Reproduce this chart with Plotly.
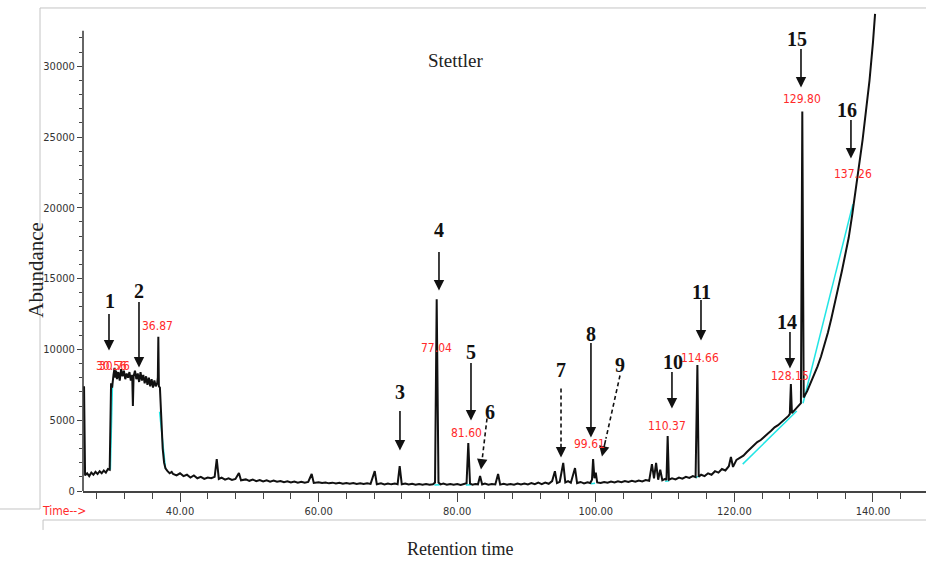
import plotly.graph_objects as go

# Total ion chromatogram, sample "Stettler" (retention time in minutes, abundance in counts)
rt = [26.15, 26.3, 26.6, 26.9, 27.2, 27.5, 27.8, 28.1, 28.4, 28.7, 29.0, 29.3, 29.6, 29.85,
      30.05, 30.2, 30.4, 30.56, 30.66, 30.76, 30.9, 31.1, 31.3, 31.5, 31.7, 31.9, 32.1, 32.3,
      32.5, 32.7, 32.9, 33.1, 33.2, 33.3, 33.5, 33.7, 33.9, 34.1, 34.3, 34.5, 34.7, 34.9,
      35.1, 35.3, 35.5, 35.7, 35.9, 36.1, 36.3, 36.5, 36.7, 36.8, 36.87, 36.95, 37.1, 37.3,
      37.5, 37.7, 37.9, 38.2, 38.5, 38.8, 39.0, 39.5, 40.0, 40.5, 41.0, 41.5, 42.0, 42.5,
      43.0, 43.5, 44.0, 44.5, 45.0, 45.3, 45.6, 46.0, 46.5, 47.0, 47.5, 48.0, 48.5, 48.8,
      49.5, 50.0, 50.5, 51.0, 51.5, 52.0, 52.5, 53.0, 53.5, 54.0, 54.5, 55.0, 55.5, 56.0,
      56.5, 57.0, 57.5, 58.0, 58.5, 59.0, 59.3, 60.0, 60.5, 61.0, 61.5, 62.0, 62.5, 63.0,
      63.5, 64.0, 64.5, 65.0, 65.5, 66.0, 66.5, 67.0, 67.5, 68.1, 68.4, 69.0, 69.5, 70.0,
      70.5, 71.0, 71.4, 71.7, 72.0, 72.5, 73.0, 73.5, 74.0, 74.5, 75.0, 75.5, 76.0, 76.5,
      76.8, 77.04, 77.3, 77.6, 78.0, 78.5, 79.0, 79.5, 80.0, 80.5, 81.0, 81.35, 81.6, 81.85,
      82.2, 82.6, 83.0, 83.3, 83.6, 84.0, 84.5, 85.0, 85.5, 85.9, 86.2, 86.7, 87.2, 87.7,
      88.2, 88.7, 89.2, 89.7, 90.2, 90.7, 91.2, 91.7, 92.2, 92.7, 93.2, 93.7, 94.1, 94.4,
      94.8, 95.3, 95.6, 96.0, 96.4, 97.0, 97.3, 97.8, 98.3, 98.8, 99.2, 99.45, 99.61, 99.8,
      100.0, 100.2, 100.7, 101.2, 101.7, 102.2, 102.7, 103.2, 103.7, 104.2, 104.7, 105.2,
      105.7, 106.2, 106.7, 107.2, 107.7, 108.1, 108.4, 108.7, 109.0, 109.3, 109.6, 110.0,
      110.2, 110.37, 110.55, 111.0, 111.5, 112.0, 112.5, 113.0, 113.5, 114.0, 114.4, 114.66,
      114.85, 115.2, 115.7, 116.2, 116.7, 117.2, 117.7, 118.2, 118.7, 119.2, 119.5, 119.8,
      120.3, 120.8, 121.3, 121.8, 122.3, 122.8, 123.3, 123.8, 124.3, 124.8, 125.3, 125.8,
      126.3, 126.8, 127.3, 127.8, 128.0, 128.15, 128.3, 128.7, 129.2, 129.6, 129.8, 130.0,
      130.5, 131.0, 131.5, 132.0, 132.5, 133.0, 133.5, 134.0, 134.5, 135.0, 135.5, 136.0,
      136.5, 137.0, 137.26, 137.5, 138.0, 138.5, 139.0, 139.5, 140.0, 140.3]
abundance = [7400, 1100, 1250, 1050, 1300, 1150, 1350, 1200, 1400, 1250, 1450, 1300, 1550, 1500,
             7600, 7300, 8200, 8700, 8000, 8500, 7900, 8400, 7800, 8600, 8100, 8500, 7900, 8300,
             8000, 8400, 7800, 8200, 6000, 8100, 8500, 7900, 8300, 7700, 8400, 7800, 8200, 7600,
             8100, 7500, 8000, 7400, 7900, 7300, 7800, 7400, 7600, 8000, 10900, 7400, 7300, 5000,
             3000, 2000, 1600, 1400, 1250, 1350, 1200, 1100, 1250, 1050, 1150, 950, 1100, 900,
             1000, 850, 950, 900, 1000, 2260, 850, 950, 800, 900, 780, 850, 1270, 760,
             820, 720, 800, 700, 780, 680, 750, 660, 730, 650, 700, 620, 690, 600,
             670, 590, 650, 580, 640, 1200, 570, 620, 560, 600, 540, 590, 530, 580,
             520, 570, 510, 560, 500, 550, 490, 540, 500, 1400, 480, 540, 470, 530,
             470, 520, 480, 1760, 470, 520, 460, 510, 450, 500, 450, 490, 440, 480,
             600, 13550, 600, 470, 520, 440, 500, 450, 490, 430, 480, 550, 3390, 520,
             450, 500, 470, 1060, 460, 520, 440, 500, 460, 1200, 450, 510, 440, 500,
             450, 520, 460, 530, 470, 560, 480, 590, 490, 600, 510, 700, 1400, 560,
             650, 1980, 600, 700, 580, 1620, 560, 640, 540, 620, 560, 800, 2260, 900,
             1300, 600, 560, 640, 580, 660, 600, 680, 620, 700, 640, 720,
             660, 740, 680, 780, 720, 1900, 900, 1980, 800, 1500, 760, 850,
             780, 3880, 800, 900, 820, 950, 870, 1000, 920, 1050, 980, 8900,
             1000, 1150, 1050, 1250, 1150, 1400, 1300, 1550, 1450, 1750, 2400, 1700,
             2200, 2350, 2500, 2750, 3000, 3200, 3450, 3600, 3850, 4050, 4250, 4500,
             4650, 4850, 5100, 5300, 5450, 7550, 5500, 5700, 5950, 6200, 26800, 6600,
             7050, 7600, 8150, 8800, 9500, 10300, 11200, 12200, 13200, 14400, 15500, 16600,
             17900, 19500, 20400, 21200, 23100, 24800, 26900, 29000, 31700, 33700]

# Integration baselines (None separates the segments)
base_rt = [29.95, 30.25, None, 37.05, 37.9, None, 76.7, 77.5, None, 81.25, 82.0, None,
           99.3, 99.9, None, 110.0, 110.6, None, 114.3, 115.0, None,
           121.2, 129.0, None, 129.9, 137.1]
base_ab = [1500, 7500, None, 5600, 1600, None, 420, 440, None, 430, 440, None,
           520, 540, None, 680, 720, None, 950, 1050, None,
           1900, 5650, None, 6200, 20260]

# Peak numbering: (label, arrow tail rt, arrow tail abundance, head rt, head abundance, dashed)
peak_ids = ["1", "2", "3", "4", "5", "6", "7", "8", "9", "10", "11", "14", "15", "16"]
arrow_tail_rt = [29.75, 34.08, 71.74, 77.37, 81.99, 84.30, 94.98, 99.30, 103.49, 110.99, 115.18, 128.02, 129.61, 136.82]
arrow_tail_ab = [12606, 13453, 5755, 16984, 9145, 5120, 7239, 10558, 8157, 8510, 13594, 11335, 31320, 26307]
arrow_head_rt = [29.75, 34.08, 71.74, 77.37, 81.99, 83.43, 94.98, 99.30, 100.89, 110.99, 115.18, 128.02, 129.61, 136.82]
arrow_head_ab = [9922, 8722, 2860, 14160, 4979, 1518, 2366, 3778, 2436, 5826, 10628, 8651, 28496, 23482]
arrow_dashed = [False, False, False, False, False, True, True, False, True, False, False, False, False, False]
id_rt = [29.9, 34.08, 71.74, 77.37, 81.99, 84.73, 94.98, 99.30, 103.49, 111.14, 115.32, 127.59, 129.03, 136.25]
id_ab = [13453, 14160, 7027, 18468, 9852, 5614, 8580, 11123, 8933, 9145, 14089, 11970, 31956, 26943]

# Retention-time tags printed by the integrator
tag_text = ["30.56", "30.76", "36.87", "77.04", "81.60", "99.61", "110.37", "114.66", "128.15", "129.80", "137.26"]
tag_rt = [30.05, 30.5, 36.82, 77.08, 81.41, 99.16, 110.27, 115.03, 128.02, 129.75, 137.11]
tag_ab = [8863, 8863, 11688, 10134, 4131, 3354, 4626, 9428, 8157, 27720, 22422]

X_RANGE = [26.0, 147.65]
Y_RANGE = [0, 33970]
SERIF = "Liberation Serif, Times New Roman, serif"
NARROW = "Liberation Sans Narrow, Arial Narrow, DejaVu Sans Condensed, sans-serif"

fig = go.Figure()
fig.add_trace(go.Scatter(x=base_rt, y=base_ab, mode="lines",
                         line=dict(color="#22e5e5", width=1.5), hoverinfo="skip"))
fig.add_trace(go.Scatter(x=rt, y=abundance, mode="lines",
                         line=dict(color="#111111", width=2)))

annotations = []
shapes = []
for pid, tx, ty, hx, hy, dashed, nx, ny in zip(peak_ids, arrow_tail_rt, arrow_tail_ab, arrow_head_rt,
                                               arrow_head_ab, arrow_dashed, id_rt, id_ab):
    if dashed:
        # dashed shaft ending just short of the head, then a short solid stub carrying the head
        fx = hx + (tx - hx) * 0.22
        fy = hy + (ty - hy) * 0.22
        shapes.append(dict(type="line", xref="x", yref="y", x0=tx, y0=ty, x1=fx, y1=fy,
                           line=dict(color="#111111", width=1.6, dash="4px,3px")))
        annotations.append(dict(x=hx, y=hy, ax=fx, ay=fy, xref="x", yref="y", axref="x", ayref="y",
                                text="", showarrow=True, arrowhead=2, arrowsize=1.3,
                                arrowwidth=1.6, arrowcolor="#111111"))
    else:
        annotations.append(dict(x=hx, y=hy, ax=tx, ay=ty, xref="x", yref="y", axref="x", ayref="y",
                                text="", showarrow=True, arrowhead=2, arrowsize=1.3,
                                arrowwidth=1.6, arrowcolor="#111111"))
    annotations.append(dict(x=nx, y=ny, xref="x", yref="y", text="<b>%s</b>" % pid, showarrow=False,
                            font=dict(family=SERIF, size=20, color="#111111")))

for t, x, y in zip(tag_text, tag_rt, tag_ab):
    annotations.append(dict(x=x, y=y, xref="x", yref="y", text=t, showarrow=False,
                            font=dict(family=NARROW, size=12, color="#ff2a2a")))

annotations += [
    dict(x=0.442, y=0.92, xref="paper", yref="paper", text="Stettler", showarrow=False,
         font=dict(family=SERIF, size=19, color="#222222")),
    dict(x=0, y=0.46, xref="paper", yref="paper", xshift=-61, text="Abundance", showarrow=False,
         textangle=-90, font=dict(family=SERIF, size=21, color="#222222")),
    dict(x=0.447, y=0, xref="paper", yref="paper", yshift=-70, text="Retention time", showarrow=False,
         font=dict(family=SERIF, size=18, color="#222222")),
    dict(x=0, y=0, xref="paper", yref="paper", xshift=-43, yshift=-11, xanchor="left", yanchor="top",
         text="Time-->", showarrow=False, font=dict(family=NARROW, size=12, color="#ff2a2a")),
]

# y axis spine stops short of the plot top, as in the instrument printout
shapes.append(dict(type="line", xref="paper", yref="y", x0=0, x1=0, y0=0, y1=32500,
                   line=dict(color="#333333", width=1.5)))
# outline of the pasted printout
frame = dict(color="#c4c4c4", width=1)
shapes += [
    dict(type="line", xref="paper", yref="paper", x0=-0.051, x1=1.0, y0=1.0042, y1=1.0042, line=frame),
    dict(type="line", xref="paper", yref="paper", x0=-0.051, x1=-0.051, y0=1.0042, y1=-0.0374, line=frame),
    dict(type="line", xref="paper", yref="paper", x0=-0.0985, x1=-0.051, y0=-0.0374, y1=-0.0374, line=frame),
    dict(type="line", xref="paper", yref="paper", x0=-0.0474, x1=1.0, y0=-0.0603, y1=-0.0603, line=frame),
    dict(type="line", xref="paper", yref="paper", x0=-0.0474, x1=-0.0474, y0=-0.0603, y1=-0.081, line=frame),
]

fig.update_layout(
    width=926, height=561,
    margin=dict(l=83, r=0, t=10, b=70),
    paper_bgcolor="white", plot_bgcolor="white",
    showlegend=False,
    annotations=annotations,
    shapes=shapes,
    xaxis=dict(range=X_RANGE, showgrid=False, zeroline=False,
               showline=True, linecolor="#444444", linewidth=2,
               tick0=0, dtick=20, tickformat=".2f", ticks="outside", ticklen=9, tickwidth=1.2,
               tickcolor="#444444",
               minor=dict(dtick=4, tick0=0, ticks="outside", ticklen=6, tickcolor="#444444", tickwidth=1.2),
               tickfont=dict(family=NARROW, size=11, color="#333333")),
    yaxis=dict(range=Y_RANGE, showgrid=False, zeroline=False, showline=False,
               tickvals=[0, 5000, 10000, 15000, 20000, 25000, 30000], tickformat="d",
               ticks="outside", ticklen=5, tickwidth=1.2, tickcolor="#444444",
               minor=dict(tickvals=[v * 1000 for v in range(0, 33)], ticks="outside", ticklen=3,
                          tickcolor="#444444", tickwidth=1.2),
               tickfont=dict(family=NARROW, size=11, color="#333333")),
)

fig.write_html("out.html")
